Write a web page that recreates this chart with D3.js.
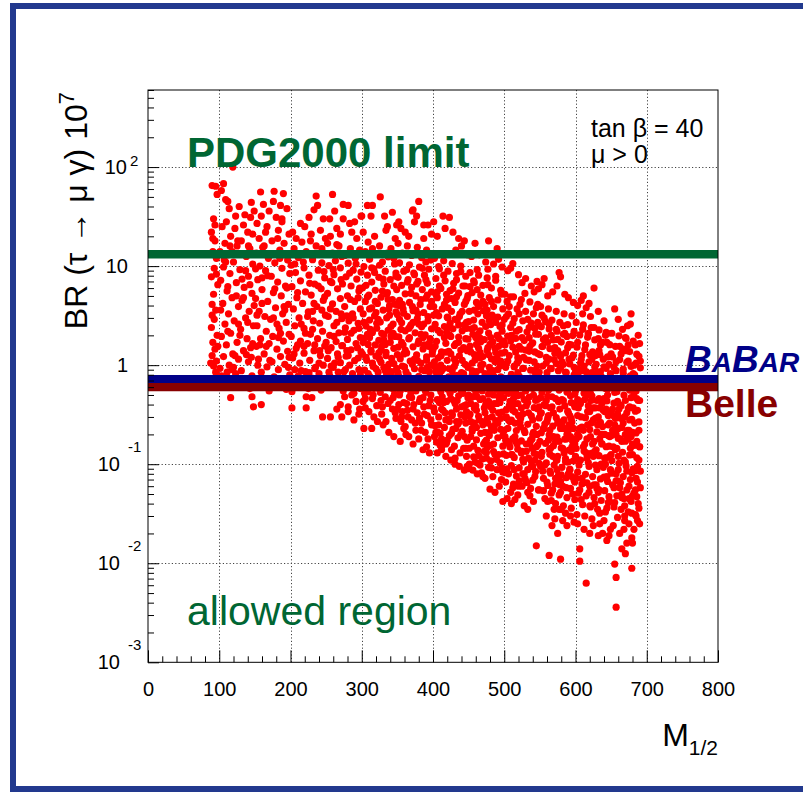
<!DOCTYPE html>
<html>
<head>
<meta charset="utf-8">
<script src="https://cdn.jsdelivr.net/npm/d3@7"></script>
<style>
html, body { margin: 0; padding: 0; background: #fff; }
svg { display: block; font-family: "Liberation Sans", Arial, Helvetica, sans-serif; }
</style>
</head>
<body>
<svg id="chart" width="803" height="794"></svg>
<script>
// Axis ticks
const xTicks = [0, 100, 200, 300, 400, 500, 600, 700, 800];
const yDecades = [1e-3, 1e-2, 1e-1, 1, 10, 100];

// Experimental upper limits on BR(tau -> mu gamma) x 10^7
const limitNames = ["PDG2000", "BABAR", "Belle"];
const limitValues = [13.2, 0.72, 0.60];

// Scan points: [M_1/2, BR x 10^7]
const points = [
// M1/2 ~ 90-100
[90,65],[95,64],[92,30],[97,53],[89,22],[94,18],[91,14],[96,12],[93,9.5],[89,7.8],[98,6.5],[92,5.2],[90,4.1],[95,3.6],[93,2.9],[89,2.4],[97,2.0],[91,1.7],[94,1.45],[90,1.25],[96,1.1],[92,0.98],[88,1.05],[95,0.85],[91,19],[94,26],[96,8.3],[90,3.2],[98,1.55],
// 100-150
[106,68],[109,47],[112,45],[114,38],[110,28],[119,100],[103,58],[145,44],[149,36],[144,31],[128,40],[136,33],[122,24],[140,22],[104,25],[116,20],[131,18],[108,17],[125,16],[143,15],[101,14],[113,13],[138,12.5],[120,11],[147,10.5],[106,9.8],[129,9.2],[115,8.4],[141,7.9],[102,7.2],[124,6.8],[135,6.1],[111,5.6],[146,5.3],[118,4.8],[132,4.5],[105,4.2],[127,3.9],[142,3.5],[113,3.3],[137,3.0],[121,2.8],[108,2.6],[148,2.5],[130,2.3],[116,2.1],[103,1.95],[139,1.85],[125,1.7],[110,1.6],[144,1.5],[134,1.4],[119,1.3],[106,1.22],[127,1.15],[141,1.08],[114,1.0],[101,0.93],[131,0.88],[123,0.82],[146,0.78],[109,0.74],[136,0.7],[117,0.66],[128,0.62],[143,0.58],[104,0.65],[116,0.47],[139,0.62],[133,0.68],[126,18],[134,26],[112,2.2],[122,1.25],[143,6.5],[107,11.5],[149,4.0],[118,14],[137,9],[102,3.6],[129,2.0],[145,1.2],[111,0.85],[124,5.0],[140,2.7],[115,16],[132,7.4],[120,0.95],[147,21],
[103,0.78],[127,2.6],[141,16],[118,0.9],[134,4.8],[109,11],[147,1.65],[123,32],[138,1.28],[112,6.2],
// 150-200
[158,56],[162,42],[177,57],[190,54],[176,45],[186,41],[159,32],[180,31],[188,28],[170,36],[195,38],[153,27],[167,25],[183,23],[198,21],[156,19],[174,18],[191,17],[161,15.5],[185,14.5],[152,13.5],[169,12],[196,11.5],[178,10.8],[157,10],[188,9.5],[165,9],[199,8.4],[173,7.9],[154,7.3],[182,6.9],[193,6.3],[160,5.8],[176,5.4],[187,5],[151,4.7],[168,4.4],[197,4.1],[179,3.8],[156,3.5],[189,3.3],[164,3.1],[172,2.9],[194,2.7],[153,2.5],[184,2.35],[166,2.2],[198,2.05],[175,1.95],[158,1.85],[190,1.75],[170,1.65],[152,1.55],[181,1.45],[196,1.38],[163,1.3],[186,1.22],[155,1.15],[174,1.08],[192,1.02],[167,0.96],[183,0.9],[159,0.85],[199,0.8],[177,0.76],[150,0.72],[189,0.68],[162,0.64],[171,0.6],[194,0.57],[180,0.6],[146,0.48],[148,0.38],[159,0.40],[170,0.55],[186,0.62],[165,22],[188,30],[173,13],[160,4.2],[195,6],[154,1.0],[181,2.6],[168,8],[192,3.6],[157,1.6],[185,12],[178,0.66],[163,16],[198,1.2],[176,3],[151,9.4],[183,1.9],
[166,1.55],[191,3.9],[155,0.7],[182,19],[171,1.12],[197,0.95],[160,7.6],[186,2.1],[153,3.2],[178,5.9],
// 200-250
[214,27],[220,25],[226,31],[233,37],[236,51],[238,41],[246,30],[203,22],[208,19],[216,17.5],[229,21],[242,23],[249,19],[205,15],[222,14],[236,16],[247,13.5],[211,12.2],[231,11.6],[244,10.8],[201,10.2],[219,9.6],[239,9.1],[207,8.6],[226,8.1],[248,7.6],[214,7.1],[234,6.6],[202,6.2],[243,5.9],[221,5.5],[229,5.1],[209,4.8],[246,4.5],[217,4.2],[237,3.9],[204,3.7],[225,3.45],[249,3.2],[212,3.0],[232,2.8],[241,2.65],[206,2.5],[219,2.35],[245,2.2],[228,2.05],[201,1.95],[238,1.85],[214,1.75],[224,1.65],[248,1.56],[208,1.48],[233,1.4],[219,1.32],[242,1.25],[203,1.18],[227,1.12],[213,1.05],[246,1.0],[235,0.95],[206,0.9],[221,0.86],[240,0.82],[211,0.78],[230,0.74],[249,0.71],[216,0.68],[204,0.64],[238,0.61],[225,0.58],[202,0.54],[222,0.48],[230,0.47],[202,0.37],[222,0.37],[245,0.3],[236,0.64],[212,0.66],[243,0.56],[228,18],[215,2.6],[240,1.05],[207,13],[233,4.2],[247,8.8],[219,1.55],[226,0.84],[244,3.6],[210,5.4],[231,2.3],[205,1.3],[239,6.3],[218,11],[250,1.7],[224,3.1],[234,1.6],
[210,1.6],[234,0.92],[248,4.9],[221,2.1],[206,10.5],[241,1.4],[227,6.7],[215,0.88],[244,15],[231,3.5],
// 250-300
[259,53],[262,36],[274,42],[281,41],[255,30],[274,30],[283,27],[299,32],[290,28],[265,24],[270,21],[286,22],[256,20],[293,19],
[256,0.3],[272,0.3],[281,0.34],[289,0.28],[265,0.36],[296,0.32],
[252,17],[268,16],[284,15],[297,14.5],[259,13.5],[276,12.8],[291,12],[263,11.3],[281,10.7],[254,10.1],[270,9.6],[288,9.1],[299,8.7],[261,8.2],[278,7.8],[293,7.4],[256,7],[273,6.6],[285,6.3],[266,5.9],[296,5.6],[252,5.3],[280,5],[270,4.7],[290,4.4],[259,4.15],[276,3.9],[298,3.7],[264,3.5],[287,3.3],[253,3.1],[272,2.95],[282,2.8],[295,2.65],[261,2.5],[277,2.38],[289,2.25],[268,2.12],[255,2.0],[298,1.9],[280,1.82],[264,1.73],[292,1.65],[272,1.57],[257,1.5],[285,1.43],[299,1.36],[266,1.3],[278,1.23],[252,1.17],[290,1.11],[270,1.06],[283,1.0],[260,0.95],[296,0.9],[275,0.86],[287,0.82],[255,0.78],[268,0.74],[293,0.7],[280,0.66],[262,0.62],[298,0.58],[274,0.55],[286,0.5],[258,0.66],[292,0.43],[270,0.4],[281,0.38],[297,0.36],[263,0.69],[276,0.48],[289,0.52],[253,0.75],[267,1.2],[285,2.1],[295,4.8],[271,3.3],[258,6.8],[283,8.5],[266,0.7],[294,1.5],[277,0.9],[261,1.95],[288,3.0],[254,0.85],[272,12.5],[297,6.0],[279,1.4],[265,2.7],[292,0.64],
[262,1.05],[287,0.58],[271,7.3],[296,2.35],[256,3.7],[281,1.25],[267,0.85],[292,10.5],[276,2.15],[253,1.4],[298,0.8],[284,4.6],[260,9.2],[273,1.58],[290,0.69],[265,16.5],[279,3.15],[257,0.98],[295,1.18],[269,0.62],
// 300-350
[308,41],[315,41],[326,50],[300,32],[313,32],[332,32],[343,35],[349,26],[336,25],
[303,0.23],[314,0.23],[345,0.19],[330,0.25],[322,0.27],[338,0.21],
[302,22],[318,20],[334,23],[347,19],[309,17.5],[325,16],[341,15],[305,14],[320,13.2],[337,12.4],[311,11.7],[329,11],[346,10.5],[303,9.9],[317,9.4],[333,8.9],[348,8.5],[308,8.1],[324,7.7],[340,7.3],[314,6.9],[331,6.6],[345,6.3],[301,6.0],[319,5.7],[336,5.4],[310,5.1],[327,4.85],[343,4.6],[305,4.4],[322,4.2],[339,4.0],[314,3.8],[330,3.6],[348,3.45],[302,3.3],[318,3.15],[335,3.0],[311,2.85],[326,2.72],[344,2.6],[306,2.48],[321,2.36],[337,2.25],[315,2.14],[331,2.04],[347,1.95],[303,1.86],[324,1.78],[340,1.7],[309,1.62],[328,1.55],[345,1.48],[313,1.41],[334,1.35],[301,1.29],[320,1.23],[342,1.17],[307,1.12],[327,1.07],[338,1.02],[316,0.97],[349,0.93],[304,0.89],[323,0.85],[335,0.81],[311,0.77],[344,0.73],[329,0.7],[318,0.66],[300,0.63],[340,0.6],[325,0.57],[309,0.54],[346,0.51],[333,0.48],[315,0.46],[302,0.43],[337,0.41],[321,0.39],[343,0.36],[310,0.34],[328,0.32],[348,0.29],[317,0.3],[334,0.27],[305,0.37],[340,0.44],[326,0.53],[312,0.62],[347,0.75],[331,0.95],[306,1.2],[319,1.6],[344,2.1],[323,2.9],[338,3.7],[308,4.9],[349,5.8],[330,7.4],[314,9.6],[336,13.5],[303,2.7],[327,1.42],[342,0.86],[316,0.5],[329,0.38],[345,1.04],[320,3.4],[335,5.2],[311,1.9],[301,0.72],[341,2.45],[325,1.15],[347,4.1],[318,8.6],[333,1.62],
[304,0.52],[331,1.8],[312,2.3],[348,7.9],[322,0.75],[339,3.2],[306,6.4],[327,0.44],[315,1.05],[343,0.58],[319,4.4],[334,1.25],[309,0.82],[325,10.2],[338,0.69],[313,1.36],[347,0.33],[302,1.7],[333,0.88],[321,2.65],[345,12],[311,3.7],[329,5.6],[317,0.58],[341,1.95],[308,2.05],[336,0.95],[324,1.33],[344,0.47],[315,15],[328,2.1],[350,1.28],[337,4.6],[305,0.46],[320,0.92],
// 350-400
[380,45],[372,37],[374,28],[371,36],[377,32],[361,22],[387,26],[393,26],[387,19],[355,24],[366,20],[398,21],[352,28],
[354,0.17],[372,0.16],[386,0.14],[395,0.13],[362,0.2],[380,0.18],[391,0.15],
[351,17],[364,16],[378,15.5],[391,14.5],[357,13.5],[370,12.8],[384,12.2],[397,11.5],[353,10.8],[367,10.3],[381,9.8],[394,9.3],[359,8.9],[373,8.5],[388,8.1],[351,7.7],[365,7.3],[379,7.0],[392,6.7],[356,6.4],[370,6.1],[385,5.8],[398,5.5],[361,5.25],[376,5.0],[390,4.75],[353,4.5],[367,4.3],[382,4.1],[396,3.9],[358,3.7],[372,3.55],[387,3.4],[350,3.25],[364,3.1],[378,2.95],[393,2.8],[356,2.68],[369,2.56],[384,2.44],[398,2.33],[361,2.22],[375,2.12],[389,2.02],[352,1.93],[366,1.84],[380,1.76],[395,1.68],[358,1.6],[372,1.53],[386,1.46],[399,1.39],[363,1.33],[377,1.27],[391,1.21],[354,1.16],[368,1.1],[383,1.05],[397,1.0],[360,0.96],[374,0.92],[388,0.88],[351,0.84],[365,0.8],[380,0.77],[394,0.73],[357,0.7],[371,0.67],[385,0.64],[399,0.61],[362,0.58],[376,0.55],[390,0.53],[353,0.5],[367,0.48],[382,0.46],[396,0.44],[359,0.42],[373,0.4],[387,0.38],[350,0.36],[364,0.35],[378,0.33],[392,0.31],[356,0.3],[370,0.28],[384,0.26],[398,0.25],[361,0.24],[376,0.22],[389,0.21],[366,0.19],[393,0.18],[355,0.27],[381,0.43],[368,0.62],[395,0.86],[359,1.3],[386,1.9],[372,2.7],[352,4.0],[398,4.4],[377,6.6],[363,9.2],[390,11],[369,0.53],[383,0.71],[357,0.98],[394,1.55],[366,2.35],[379,3.3],[352,0.4],[388,0.32],[374,1.15],[361,0.75],[397,0.5],[383,2.05],[356,1.7],[371,3.9],[392,0.95],[365,0.3],
[357,0.34],[383,4.6],[366,0.66],[391,1.12],[375,0.26],[398,0.68],[361,1.42],[384,0.9],[353,2.9],[392,5.1],[370,0.47],[387,2.6],[359,0.23],[396,1.85],[376,3.6],[351,1.52],[381,0.29],[364,6.9],[394,0.39],[368,2.45],[389,0.56],[357,4.1],[379,1.65],[372,0.36],[399,1.3],[362,0.86],[386,0.47],[354,0.55],[393,3.1],[374,8.2],[383,0.22],[367,1.9],[390,7.3],[352,0.77],[378,1.12],[359,3.35],[397,0.28],[371,1.02],[388,1.6],[363,0.41],[392,0.74],[380,2.6],[369,5.3],[355,2.3],[385,9.5],
// 400-450
[401,28],[414,32],[423,31],[406,20],[428,22],[436,19],[440,16],[444,18],[417,24],[432,14.5],[448,13],
[406,0.13],[418,0.12],[431,0.1],[444,0.087],[425,0.11],[412,0.14],[437,0.095],[449,0.09],
[402,12],[415,11.3],[427,10.6],[439,10],[409,9.4],[421,8.9],[433,8.4],[446,7.9],[404,7.5],[417,7.1],[429,6.7],[442,6.3],[411,5.95],[424,5.65],[436,5.35],[449,5.05],[406,4.8],[419,4.55],[431,4.3],[444,4.1],[401,3.9],[413,3.7],[426,3.5],[438,3.3],[408,3.15],[421,3.0],[434,2.85],[447,2.7],[403,2.58],[416,2.45],[428,2.33],[441,2.22],[410,2.12],[423,2.02],[436,1.92],[449,1.83],[405,1.74],[418,1.66],[430,1.58],[443,1.5],[400,1.43],[412,1.36],[425,1.3],[437,1.24],[407,1.18],[420,1.12],[432,1.07],[445,1.02],[402,0.97],[415,0.93],[427,0.88],[440,0.84],[409,0.8],[422,0.76],[434,0.73],[447,0.7],[404,0.66],[417,0.63],[429,0.6],[442,0.57],[411,0.54],[424,0.52],[436,0.49],[449,0.47],[406,0.45],[419,0.43],[431,0.41],[444,0.39],[401,0.37],[414,0.35],[426,0.33],[439,0.315],[408,0.3],[421,0.285],[433,0.27],[446,0.26],[403,0.245],[416,0.235],[428,0.225],[441,0.215],[410,0.205],[423,0.195],[435,0.185],[448,0.175],[405,0.167],[418,0.16],[430,0.152],[443,0.145],[413,0.155],[438,0.13],[426,0.14],[447,0.12],[420,0.175],[407,0.21],[432,0.23],[445,0.3],[415,0.42],[440,0.55],[403,0.62],[428,0.78],[449,0.95],[411,1.25],[436,1.7],[424,2.4],[401,3.2],[446,4.4],[419,5.2],[433,7.3],[408,9.9],[442,0.64],[425,0.46],[412,0.36],[437,0.27],[450,0.5],[404,0.86],[430,1.15],[416,1.9],[444,2.55],[421,3.8],[435,0.72],[409,0.58],[447,0.4],[427,0.32],[402,0.19],[439,0.2],[418,1.35],[431,2.9],[406,5.5],[448,1.4],[414,0.7],[443,0.82],[423,0.27],[434,0.44],[411,1.0],[441,3.5],[426,4.7],
[403,1.55],[418,0.28],[437,3.1],[409,0.42],[428,5.9],[444,0.19],[412,0.88],[431,0.115],[447,2.35],[405,3.4],[421,0.57],[439,1.42],[415,8.1],[433,0.36],[449,0.98],[408,0.25],[425,1.95],[442,0.52],[401,0.74],[419,0.165],[436,2.55],[411,1.24],[429,0.44],[446,0.145],[404,5.2],[423,0.92],[440,0.38],[414,0.62],[432,1.65],[448,4.7],[407,2.25],[426,0.205],[443,0.79],[402,0.34],[420,3.05],[438,0.59],[410,0.155],[430,0.97],[445,6.3],[416,4.1],[435,0.255],[450,2.75],[406,0.96],[424,2.65],[441,1.12],[413,0.48],[434,0.79],[448,0.095],[404,0.21],[422,1.38],[439,8.8],[417,0.33],[436,0.69],[409,6.3],[427,0.31],[446,1.85],[402,1.08],[419,2.15],[433,4.9],[412,0.18],[430,0.57],[447,0.34],
// 450-500
[459,17],[478,18],[490,15],[492,11.7],[474,11],[477,9.3],[465,13],[485,10.5],[454,12.5],[497,9.8],
[456,0.087],[470,0.075],[473,0.072],[480,0.056],[487,0.052],[498,0.042],[462,0.08],[493,0.06],[451,0.1],
[452,8.6],[464,8.1],[476,7.6],[488,7.2],[458,6.8],[470,6.4],[482,6.0],[495,5.7],[455,5.4],[467,5.1],[479,4.8],[491,4.55],[461,4.3],[473,4.1],[485,3.9],[498,3.7],[451,3.5],[463,3.3],[475,3.15],[487,3.0],[457,2.85],[469,2.7],[481,2.57],[494,2.45],[454,2.33],[466,2.22],[478,2.11],[490,2.0],[460,1.9],[472,1.81],[484,1.72],[497,1.64],[452,1.56],[464,1.48],[476,1.41],[488,1.34],[458,1.28],[470,1.22],[482,1.16],[495,1.1],[455,1.05],[467,1.0],[479,0.95],[491,0.9],[461,0.86],[473,0.82],[485,0.78],[498,0.74],[451,0.71],[463,0.67],[475,0.64],[487,0.61],[457,0.58],[469,0.55],[481,0.52],[494,0.5],[454,0.475],[466,0.45],[478,0.43],[490,0.41],[460,0.39],[472,0.37],[484,0.35],[497,0.335],[452,0.32],[464,0.305],[476,0.29],[488,0.275],[458,0.26],[470,0.25],[482,0.237],[495,0.225],[455,0.215],[467,0.205],[479,0.195],[491,0.185],[461,0.176],[473,0.168],[485,0.16],[498,0.152],[451,0.145],[463,0.138],[475,0.131],[487,0.125],[457,0.119],[469,0.113],[481,0.108],[494,0.103],[466,0.098],[478,0.093],[490,0.088],[459,0.105],[484,0.075],[496,0.07],[471,0.16],[453,0.19],[486,0.22],[465,0.28],[492,0.33],[474,0.4],[456,0.48],[489,0.57],[468,0.7],[480,0.85],[499,1.0],[462,1.2],[477,1.5],[493,1.85],[458,2.4],[483,3.2],[470,4.4],[496,5.2],[452,6.2],[488,7.9],[464,0.122],[476,0.148],[499,0.127],[483,0.3],[461,0.35],[494,0.42],[472,0.62],[455,0.8],[487,1.08],[466,1.35],[497,2.2],[479,2.8],[458,3.6],[491,0.26],[473,0.21],[453,0.41],[485,0.5],[467,0.9],[498,0.6],[481,1.9],[462,5.8],[475,0.115],
[452,0.64],[466,1.88],[481,0.155],[495,0.76],[459,1.13],[473,0.33],[488,2.7],[462,0.48],[477,6.5],[492,0.125],[455,0.23],[470,1.02],[486,0.41],[499,1.75],[464,3.9],[479,0.21],[494,0.56],[457,7.1],[472,0.135],[487,1.48],[451,0.31],[467,0.72],[482,4.4],[497,0.092],[461,1.62],[476,0.62],[491,3.05],[456,2.05],[469,0.27],[484,0.88],[498,0.195],[463,0.102],[478,1.28],[493,0.46],[458,0.37],[474,2.45],[489,0.112],[453,1.36],[468,0.082],[483,0.69],[496,1.32],[460,0.54],[475,0.175],[490,1.18],[465,0.63],[480,1.62],[495,0.29],[457,0.152],[471,3.55],[486,0.245],[499,0.47],[463,2.05],[478,0.51],[492,1.55],[455,0.88],[470,0.46],[485,0.134],[497,2.55],[453,0.27],[467,1.72],[482,0.092],[494,0.98],[461,0.235],[476,3.6],[490,0.66],[466,1.18],[481,0.38],[498,0.083],[462,9.2],[477,0.26],[491,1.95],
// 500-550
[512,10.6],[509,9.5],[546,7],[548,5.9],[520,8.2],[530,7.5],[538,6.3],[505,9],[525,6.8],[542,5.5],
[510,0.04],[519,0.049],[536,0.048],[545,0.015],[528,0.038],[504,0.045],[515,0.044],[541,0.042],[533,0.035],
[501,5.2],[513,4.9],[524,4.6],[536,4.35],[547,4.1],[507,3.9],[518,3.7],[530,3.5],[541,3.3],[503,3.1],[514,2.95],[526,2.8],[538,2.66],[549,2.53],[509,2.4],[521,2.28],[532,2.17],[544,2.06],[505,1.96],[516,1.86],[528,1.77],[540,1.68],[501,1.6],[512,1.52],[524,1.45],[535,1.38],[547,1.31],[507,1.25],[519,1.19],[531,1.13],[542,1.08],[503,1.03],[514,0.98],[526,0.93],[537,0.89],[549,0.85],[510,0.81],[521,0.77],[533,0.73],[545,0.7],[505,0.67],[517,0.64],[528,0.61],[540,0.58],[501,0.55],[512,0.525],[524,0.5],[535,0.476],[547,0.453],[508,0.43],[519,0.41],[531,0.39],[542,0.372],[503,0.355],[515,0.338],[526,0.322],[538,0.307],[549,0.293],[510,0.279],[522,0.266],[533,0.253],[545,0.241],[505,0.23],[517,0.219],[529,0.209],[540,0.199],[501,0.19],[512,0.181],[524,0.172],[536,0.164],[547,0.156],[508,0.149],[519,0.142],[531,0.135],[542,0.129],[503,0.123],[514,0.117],[526,0.112],[538,0.107],[549,0.102],[510,0.097],[521,0.092],[533,0.088],[544,0.084],[506,0.08],[517,0.076],[529,0.072],[540,0.069],[502,0.066],[513,0.063],[525,0.06],[537,0.057],[548,0.055],[509,0.052],[520,0.06],[532,0.065],[543,0.075],[504,0.09],[527,0.105],[511,0.125],[539,0.145],[516,0.17],[546,0.2],[523,0.24],[506,0.28],[534,0.33],[549,0.38],[513,0.46],[530,0.55],[518,0.7],[544,0.82],[502,0.95],[527,1.2],[536,1.55],[510,2.0],[547,2.7],[521,3.3],[504,4.4],[539,0.18],[524,0.13],[507,0.16],[543,0.11],[515,0.26],[533,0.42],[548,0.63],[520,1.1],[535,1.9],[512,0.35],[541,0.5],[528,0.08],[500,0.22],
[503,0.62],[517,2.2],[531,0.16],[546,0.98],[508,0.27],[522,4.1],[537,0.74],[501,1.35],[514,0.088],[528,0.45],[543,2.35],[506,3.3],[520,0.31],[535,1.12],[549,0.055],[511,0.72],[525,0.135],[540,0.28],[504,0.17],[518,1.05],[533,2.9],[547,0.36],[509,1.75],[524,0.37],[538,0.095],[502,0.082],[516,0.54],[530,1.42],[545,0.15],[512,2.65],[527,0.93],[541,0.21],[507,0.39],[521,0.068],[536,0.6],[550,1.28],[515,0.19],[529,5.3],[544,0.44],[505,1.1],[519,0.84],[534,0.115],[548,2.05],[510,0.125],[523,0.29],[539,1.65],[500,2.9],[513,0.4],[526,0.08],[542,0.88],[516,1.36],[532,0.58],[546,0.125],[503,0.3],[518,0.16],[533,0.052],[547,0.69],[509,4.9],[525,1.9],[540,0.095],[512,0.058],[528,0.22],[543,1.36],[506,0.52],[521,1.55],[537,0.175],[514,0.96],[530,0.068],[545,3.8],[502,0.175],[519,0.49],[535,2.4],
// 550-600
[577,8.6],[579,7.8],[574,6.3],[561,5],[553,6.5],[568,5.5],[590,4.8],[585,5.2],[597,4.3],[556,7.5],
[563,0.012],[567,0.024],[575,0.02],[579,0.011],[588,0.024],[598,0.026],[577,0.035],[586,0.032],[559,0.03],[571,0.028],[593,0.03],[582,0.027],
[551,3.9],[562,3.7],[573,3.5],[584,3.3],[595,3.15],[556,3.0],[567,2.85],[578,2.7],[589,2.57],[552,2.44],[563,2.32],[574,2.2],[585,2.09],[596,1.99],[558,1.89],[569,1.8],[580,1.71],[591,1.62],[553,1.54],[564,1.47],[575,1.4],[586,1.33],[597,1.26],[559,1.2],[570,1.14],[581,1.08],[592,1.03],[554,0.98],[565,0.93],[576,0.88],[587,0.84],[598,0.8],[560,0.76],[571,0.72],[582,0.69],[593,0.65],[555,0.62],[566,0.59],[577,0.56],[588,0.535],[599,0.51],[561,0.485],[572,0.46],[583,0.44],[594,0.42],[556,0.4],[567,0.38],[578,0.36],[589,0.343],[551,0.326],[562,0.31],[573,0.295],[584,0.28],[595,0.267],[557,0.254],[568,0.242],[579,0.23],[590,0.219],[552,0.208],[563,0.198],[574,0.188],[585,0.179],[596,0.17],[558,0.162],[569,0.154],[580,0.146],[591,0.139],[553,0.132],[564,0.126],[575,0.12],[586,0.114],[597,0.108],[559,0.103],[570,0.098],[581,0.093],[592,0.089],[554,0.085],[565,0.081],[576,0.077],[587,0.073],[598,0.069],[560,0.066],[571,0.063],[582,0.06],[593,0.057],[555,0.054],[566,0.051],[577,0.049],[588,0.046],[599,0.044],[561,0.042],[572,0.04],[583,0.038],[594,0.036],[557,0.045],[568,0.055],[579,0.067],[590,0.08],[551,0.095],[573,0.11],[584,0.13],[595,0.15],[562,0.175],[588,0.2],[556,0.23],[576,0.27],[592,0.31],[565,0.37],[581,0.45],[553,0.53],[597,0.6],[570,0.7],[586,0.85],[559,1.05],[577,1.3],[594,1.6],[566,2.0],[583,2.5],[599,0.38],[563,0.14],[589,0.105],[574,0.088],[555,0.072],[596,0.05],[580,0.035],[568,0.12],[591,0.25],[550,0.17],[585,0.6],[571,1.5],[598,0.95],[561,0.29],[579,0.052],[593,0.19],
[561,0.061],[575,1.82],[590,0.33],[552,0.12],[566,0.92],[581,0.26],[595,1.18],[558,0.39],[572,0.072],[586,0.64],[599,0.16],[563,2.6],[578,0.44],[592,0.087],[554,1.55],[569,0.19],[583,1.02],[597,0.23],[560,0.84],[574,0.11],[589,1.5],[553,3.2],[567,0.48],[582,0.145],[596,0.66],[559,0.44],[573,2.3],[587,0.058],[556,0.69],[570,0.035],[585,0.39],[598,2.2],[564,0.22],[579,0.94],[593,0.49],[557,0.098],[571,1.32],[584,0.23],[600,0.12],[562,0.56],[577,0.17],[591,1.15],[552,0.33],[568,0.73],[580,0.078],[594,0.29],[555,1.82],[565,0.145],[576,0.43],[588,1.95],[599,0.066],[560,0.27],[573,1.04],[587,0.18],[563,1.15],[578,0.062],[592,0.72],[555,0.23],[569,0.33],[583,2.05],[597,0.41],[558,2.75],[572,0.17],[586,0.106],[600,0.86],[551,0.47],[566,0.043],[581,0.59],[595,0.075],[561,1.7],[575,0.26],[589,0.54],[550,0.72],[564,0.085],[579,1.22],[594,0.135],
// 600-650
[626,6],[611,5],[608,4.5],[619,4.2],[610,3.3],[621,3.1],[645,2.1],[632,3.5],[603,4.0],[640,2.8],[615,3.8],
[606,0.014],[606,0.0105],[615,0.0063],[632,0.019],[634,0.025],[644,0.017],[647,0.019],[612,0.022],[625,0.024],[638,0.02],[603,0.025],[620,0.02],[649,0.022],
[601,2.7],[611,2.55],[622,2.4],[633,2.27],[643,2.14],[606,2.02],[617,1.91],[627,1.8],[638,1.7],[648,1.61],[602,1.52],[613,1.44],[624,1.36],[634,1.28],[645,1.21],[608,1.14],[619,1.08],[629,1.02],[640,0.96],[604,0.91],[615,0.86],[625,0.81],[636,0.77],[646,0.73],[610,0.69],[621,0.65],[631,0.61],[642,0.58],[600,0.55],[612,0.52],[623,0.49],[633,0.46],[644,0.435],[607,0.41],[618,0.39],[628,0.37],[639,0.35],[649,0.33],[603,0.31],[614,0.295],[625,0.28],[635,0.265],[646,0.25],[609,0.237],[620,0.224],[630,0.212],[641,0.2],[605,0.19],[616,0.18],[626,0.17],[637,0.161],[647,0.152],[601,0.144],[612,0.136],[622,0.129],[633,0.122],[643,0.116],[607,0.11],[618,0.104],[628,0.098],[639,0.093],[649,0.088],[603,0.083],[614,0.079],[624,0.075],[635,0.071],[645,0.067],[609,0.063],[620,0.06],[630,0.057],[641,0.054],[604,0.051],[615,0.048],[626,0.046],[636,0.043],[646,0.041],[610,0.039],[621,0.037],[631,0.035],[642,0.033],[602,0.031],[613,0.03],[623,0.028],[634,0.032],[644,0.036],[608,0.044],[619,0.052],[629,0.062],[640,0.074],[650,0.085],[605,0.098],[616,0.115],[627,0.135],[637,0.16],[648,0.19],[611,0.22],[622,0.26],[632,0.3],[643,0.36],[606,0.43],[617,0.5],[628,0.6],[638,0.7],[649,0.82],[612,0.98],[623,1.15],[633,1.4],[644,1.7],[618,2.1],[601,0.072],[627,0.04],[640,0.027],[613,0.16],[636,0.2],[648,0.26],[620,0.34],[604,0.6],[631,0.85],[645,0.5],[609,1.25],[625,0.12],[642,0.1],[616,0.065],[633,0.055],[603,0.2],
[602,0.63],[615,0.13],[628,1.25],[641,0.34],[606,0.23],[619,0.75],[632,0.052],[645,0.57],[603,1.7],[617,0.34],[630,0.088],[643,0.93],[609,0.072],[622,0.44],[635,1.6],[648,0.12],[604,0.37],[618,2.05],[631,0.25],[644,0.075],[611,0.88],[624,0.16],[637,0.41],[650,1.3],[605,0.11],[620,1.28],[633,0.69],[646,0.195],[613,0.45],[626,0.062],[639,1.15],[607,1.05],[621,0.19],[634,0.37],[647,0.047],[601,0.18],[616,0.57],[629,0.14],[642,2.0],[610,2.3],[623,0.84],[636,0.1],[649,0.64],[608,0.3],[625,0.37],[638,0.24],[612,0.065],[627,0.96],[640,0.46],[603,0.45],[619,0.095],[632,1.85],[646,0.31],[614,1.6],[628,0.29],[641,0.115],[606,0.055],[621,0.52],[635,0.86],[648,0.042],[617,0.25],[630,0.44],[643,0.15],[611,0.15],[626,2.4],[639,0.62],[604,0.84],[620,0.038],[634,0.18],[647,1.02],
// 650-692
[655,3.7],[678,3.3],[677,2.6],[673,2.5],[688,2.0],[666,2.3],[689,1.23],[660,2.9],[684,1.6],[670,1.9],
[655,0.0098],[657,0.0072],[657,0.0036],[672,0.016],[679,0.018],[680,0.016],[679,0.0089],[682,0.022],[687,0.027],[662,0.02],[668,0.022],[675,0.025],[685,0.03],[690,0.025],[653,0.024],[665,0.014],[670,0.0125],
[651,2.1],[661,1.98],[671,1.86],[681,1.75],[690,1.65],[656,1.55],[666,1.46],[676,1.37],[686,1.29],[652,1.21],[662,1.14],[672,1.07],[682,1.0],[691,0.94],[657,0.88],[667,0.83],[677,0.78],[687,0.73],[653,0.69],[663,0.65],[673,0.61],[683,0.57],[658,0.54],[668,0.5],[678,0.47],[688,0.44],[654,0.415],[664,0.39],[674,0.365],[684,0.343],[659,0.322],[669,0.302],[679,0.284],[689,0.267],[655,0.25],[665,0.235],[675,0.22],[685,0.207],[650,0.194],[660,0.182],[670,0.171],[680,0.16],[690,0.15],[656,0.141],[666,0.132],[676,0.124],[686,0.116],[651,0.109],[661,0.102],[671,0.096],[681,0.09],[691,0.085],[657,0.08],[667,0.075],[677,0.07],[687,0.066],[652,0.062],[662,0.058],[672,0.055],[682,0.051],[658,0.048],[668,0.045],[678,0.042],[688,0.04],[654,0.037],[664,0.035],[674,0.033],[684,0.031],[659,0.029],[669,0.027],[679,0.032],[689,0.036],[655,0.041],[665,0.05],[675,0.06],[685,0.072],[660,0.088],[670,0.105],[680,0.125],[690,0.15],[663,0.18],[673,0.22],[683,0.26],[653,0.31],[676,0.38],[686,0.46],[658,0.56],[668,0.68],[681,0.82],[691,1.1],[664,1.3],[674,1.6],[650,0.125],[684,0.055],[669,0.03],[657,0.2],[679,0.6],[689,0.11],[662,0.4],
[654,0.058],[667,0.91],[680,0.21],[658,0.145],[671,1.4],[684,0.086],[656,0.29],[669,0.038],[682,0.52],[661,0.71],[674,0.18],[687,0.35],[657,1.08],[670,0.44],[683,0.155],[663,0.065],[676,0.56],[689,0.22],[659,0.43],[672,0.085],[685,1.05],[652,0.36],[665,0.17],[678,0.97],[691,0.058],[660,0.23],[673,0.73],[686,0.17],[655,0.53],[668,0.11],[681,0.37],[662,1.55],[675,0.045],[688,0.63],[651,0.081],[664,0.29],[677,0.145],[690,0.44],[653,0.15],[666,0.64],[679,0.082],[659,0.068],[672,0.33],[685,0.55],[654,0.95],[667,0.26],[680,0.048],[661,0.36],[674,1.1],[687,0.095],[657,0.068],[670,0.2],[683,0.8],[652,0.22],[665,0.046],[678,0.19],[689,0.7],[660,0.12],[676,0.28],[686,0.047]
];

const svg = d3.select("#chart");
const font = "'Liberation Sans', Arial, Helvetica, sans-serif";

// Plot frame geometry
const frame = { left: 148, right: 718, top: 90, bottom: 662.3 };
const x = d3.scaleLinear().domain([0, 800]).range([frame.left, frame.right]);
const y = d3.scaleLog().domain([1e-3, 600]).range([frame.bottom, frame.top]);

// Canvas border
svg.append("rect")
  .attr("x", 13).attr("y", 6)
  .attr("width", 830).attr("height", 783)
  .attr("fill", "none")
  .attr("stroke", "#22398e")
  .attr("stroke-width", 6);

// Dotted grid
const grid = svg.append("g").attr("stroke", "#444").attr("stroke-width", 1).attr("stroke-dasharray", "1.2,2.2");
grid.selectAll(".gx").data(xTicks.filter(d => d > 0 && d < 800)).join("line")
  .attr("x1", d => Math.round(x(d)) + 0.5).attr("x2", d => Math.round(x(d)) + 0.5)
  .attr("y1", frame.top).attr("y2", frame.bottom);
grid.selectAll(".gy").data(yDecades.filter(d => d > 1e-3)).join("line")
  .attr("x1", frame.left).attr("x2", frame.right)
  .attr("y1", d => Math.round(y(d)) + 0.5).attr("y2", d => Math.round(y(d)) + 0.5);

// Scan points
svg.append("g").selectAll("circle").data(points).join("circle")
  .attr("cx", d => x(d[0]))
  .attr("cy", d => y(d[1]))
  .attr("r", 3.6)
  .attr("fill", "#ff0000");

// Experimental limits
const limitColor = { "PDG2000": "#006633", "BABAR": "#000088", "Belle": "#880000" };
svg.append("g").selectAll("line").data(limitNames.map((n, i) => ({ name: n, value: limitValues[i] }))).join("line")
  .attr("x1", x(0)).attr("x2", x(800))
  .attr("y1", d => y(d.value)).attr("y2", d => y(d.value))
  .attr("stroke", d => limitColor[d.name])
  .attr("stroke-width", 8.4);

// Frame
svg.append("rect")
  .attr("x", frame.left).attr("y", frame.top)
  .attr("width", frame.right - frame.left).attr("height", frame.bottom - frame.top)
  .attr("fill", "none").attr("stroke", "#000").attr("stroke-width", 1);

// X axis: major and minor ticks pointing into the frame
const xMinor = d3.range(0, 801, 20).filter(d => d % 100 !== 0);
const gxMinor = svg.append("g").attr("transform", `translate(0,${frame.bottom})`)
  .call(d3.axisBottom(x).tickValues(xMinor).tickSize(-6).tickFormat(""));
gxMinor.select(".domain").remove();
const gx = svg.append("g").attr("transform", `translate(0,${frame.bottom})`)
  .call(d3.axisBottom(x).tickValues(xTicks).tickSize(-12).tickPadding(20).tickFormat(d3.format("d")));
gx.select(".domain").remove();
gx.selectAll("text").attr("font-size", 20).attr("font-family", font).attr("fill", "#000");

// Y axis: decades and minor ticks
const yMinor = [];
yDecades.forEach(dec => { for (let k = 2; k <= 9; k++) { const v = dec * k; if (v <= 600) yMinor.push(v); } });
const gyMinor = svg.append("g").attr("transform", `translate(${frame.left},0)`)
  .call(d3.axisLeft(y).tickValues(yMinor).tickSize(-6).tickFormat(""));
gyMinor.select(".domain").remove();
const gy = svg.append("g").attr("transform", `translate(${frame.left},0)`)
  .call(d3.axisLeft(y).tickValues(yDecades).tickSize(-11).tickFormat(""));
gy.select(".domain").remove();

// Y tick labels with powers of ten
const ylab = svg.append("g").attr("font-family", font).attr("fill", "#000");
yDecades.forEach(v => {
  const e = Math.round(Math.log10(v));
  const yy = y(v);
  if (e === 0 || e === 1) {
    ylab.append("text").attr("x", 128).attr("y", yy + 7).attr("text-anchor", "end")
      .attr("font-size", 20).text(e === 0 ? "1" : "10");
  } else {
    const neg = e < 0;
    ylab.append("text").attr("x", neg ? 120 : 127).attr("y", yy + 7).attr("text-anchor", "end")
      .attr("font-size", 20).text("10");
    ylab.append("text").attr("x", neg ? 128 : 130).attr("y", yy + (neg ? -12 : -1))
      .attr("font-size", 15).text(String(e));
  }
});

// Axis titles
const yTitle = svg.append("text")
  .attr("transform", `translate(87,${frame.top + 2}) rotate(-90)`)
  .attr("text-anchor", "end").attr("font-family", font).attr("font-size", 32).attr("fill", "#000");
yTitle.append("tspan").text("BR (τ → μ γ) 10");
yTitle.append("tspan").attr("dy", -13).attr("font-size", 22).text("7");

const xTitle = svg.append("text")
  .attr("x", frame.right).attr("y", 746).attr("text-anchor", "end")
  .attr("font-family", font).attr("font-size", 32).attr("fill", "#000");
xTitle.append("tspan").text("M");
xTitle.append("tspan").attr("dy", 9).attr("font-size", 21).text("1/2");

// Annotations
svg.append("text").attr("x", 187).attr("y", 167)
  .attr("font-family", font).attr("font-weight", "bold").attr("font-size", 42)
  .attr("fill", "#006633").text("PDG2000 limit");
svg.append("text").attr("x", 187).attr("y", 625)
  .attr("font-family", font).attr("font-size", 41)
  .attr("fill", "#006633").text("allowed region");
svg.append("text").attr("x", 591).attr("y", 137)
  .attr("font-family", font).attr("font-size", 25).attr("fill", "#000").text("tan β = 40");
svg.append("text").attr("x", 591).attr("y", 163)
  .attr("font-family", font).attr("font-size", 25).attr("fill", "#000").text("μ > 0");

const babar = svg.append("text").attr("x", 685).attr("y", 372)
  .attr("font-family", font).attr("font-weight", "bold").attr("font-style", "italic")
  .attr("fill", "#000088");
babar.append("tspan").attr("font-size", 37).text("B");
babar.append("tspan").attr("font-size", 28).text("A");
babar.append("tspan").attr("font-size", 37).text("B");
babar.append("tspan").attr("font-size", 28).text("AR");

svg.append("text").attr("x", 685).attr("y", 417)
  .attr("font-family", font).attr("font-weight", "bold").attr("font-size", 39)
  .attr("fill", "#880000").text("Belle");
</script>
</body>
</html>
